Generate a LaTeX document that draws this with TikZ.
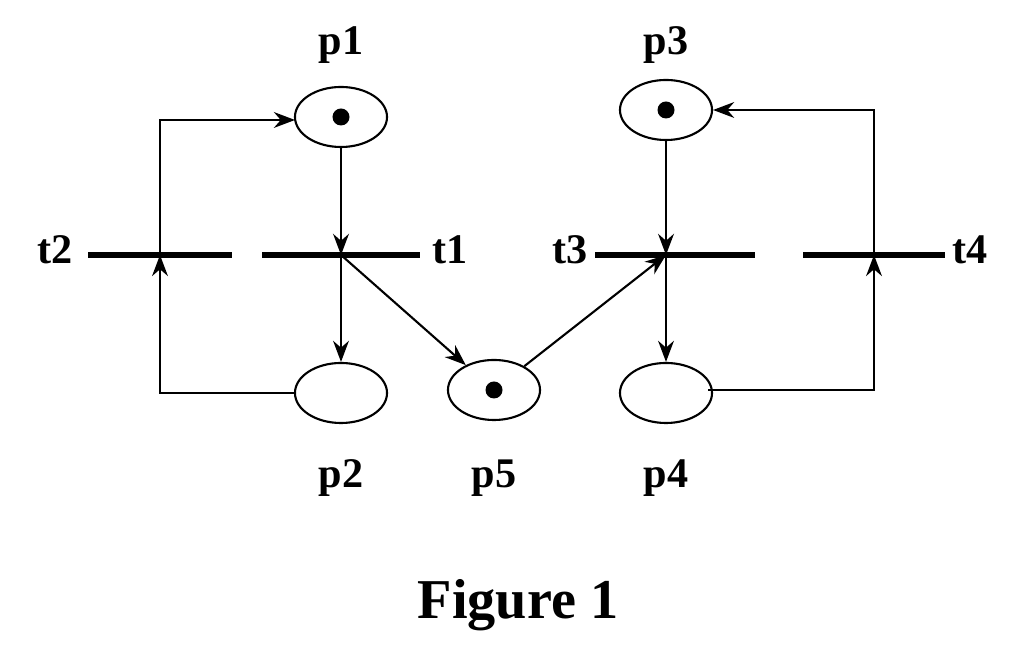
\documentclass[tikz,border=0pt]{standalone}
\usepackage{fontspec}
\setmainfont{Liberation Serif}
\usetikzlibrary{arrows.meta,shapes.geometric}
\begin{document}
\begin{tikzpicture}[x=0.01cm,y=-0.01cm,
  place/.style={draw,line width=0.6pt,ellipse,minimum width=0.92cm,minimum height=0.6cm,inner sep=0pt},
  bar/.style={fill=black,inner sep=0pt,minimum height=0.055cm},
  lbl/.style={font=\bfseries\fontsize{12}{14}\selectfont},
  arc/.style={line width=0.6pt,-{Stealth[length=6pt,width=4.5pt]}},
  tok/.style={fill=black,circle,inner sep=0pt,minimum size=0.17cm}]
\useasboundingbox (0,0) rectangle (1024,668);
\node[place] (p1) at (341,117) {};
\node[place] (p3) at (666,110) {};
\node[place] (p2) at (341,393) {};
\node[place] (p5) at (494,390) {};
\node[place] (p4) at (666,393) {};
\node[tok] at (p1) {};
\node[tok] at (p3) {};
\node[tok] at (p5) {};
\node[bar,minimum width=1.44cm] (t2) at (160,255) {};
\node[bar,minimum width=1.58cm] (t1) at (341,255) {};
\node[bar,minimum width=1.60cm] (t3) at (675,255) {};
\node[bar,minimum width=1.42cm] (t4) at (874,255) {};
\node[lbl] at (341,45) {p1};
\node[lbl] at (666,45) {p3};
\node[lbl] at (341,478) {p2};
\node[lbl] at (494,478) {p5};
\node[lbl] at (666,478) {p4};
\node[lbl] at (55,250) {t2};
\node[lbl] at (450,250) {t1};
\node[lbl] at (570,250) {t3};
\node[lbl] at (970,250) {t4};
\node[font=\bfseries\fontsize{16}{19}\selectfont] at (518,605) {Figure 1};
\coordinate (c1) at (341,255);
\coordinate (c2) at (160,255);
\coordinate (c3) at (666,255);
\coordinate (c4) at (874,255);
\coordinate (p4o) at (708,390);
\coordinate (p1i) at (295,120);
\draw[arc] (p1) -- (c1);
\draw[arc] (c1) -- (p2);
\draw[arc] (c1) -- (p5);
\draw[arc] (p5) -- (c3);
\draw[arc] (p3) -- (c3);
\draw[arc] (c3) -- (p4);
\draw[arc] (p4o) -- (874,390) -- (c4);
\draw[arc] (c4) -- (874,110) -- (p3.east);
\draw[arc] (p2.west) -- (160,393) -- (c2);
\draw[arc] (c2) -- (160,120) -- (p1i);
\end{tikzpicture}
\end{document}
